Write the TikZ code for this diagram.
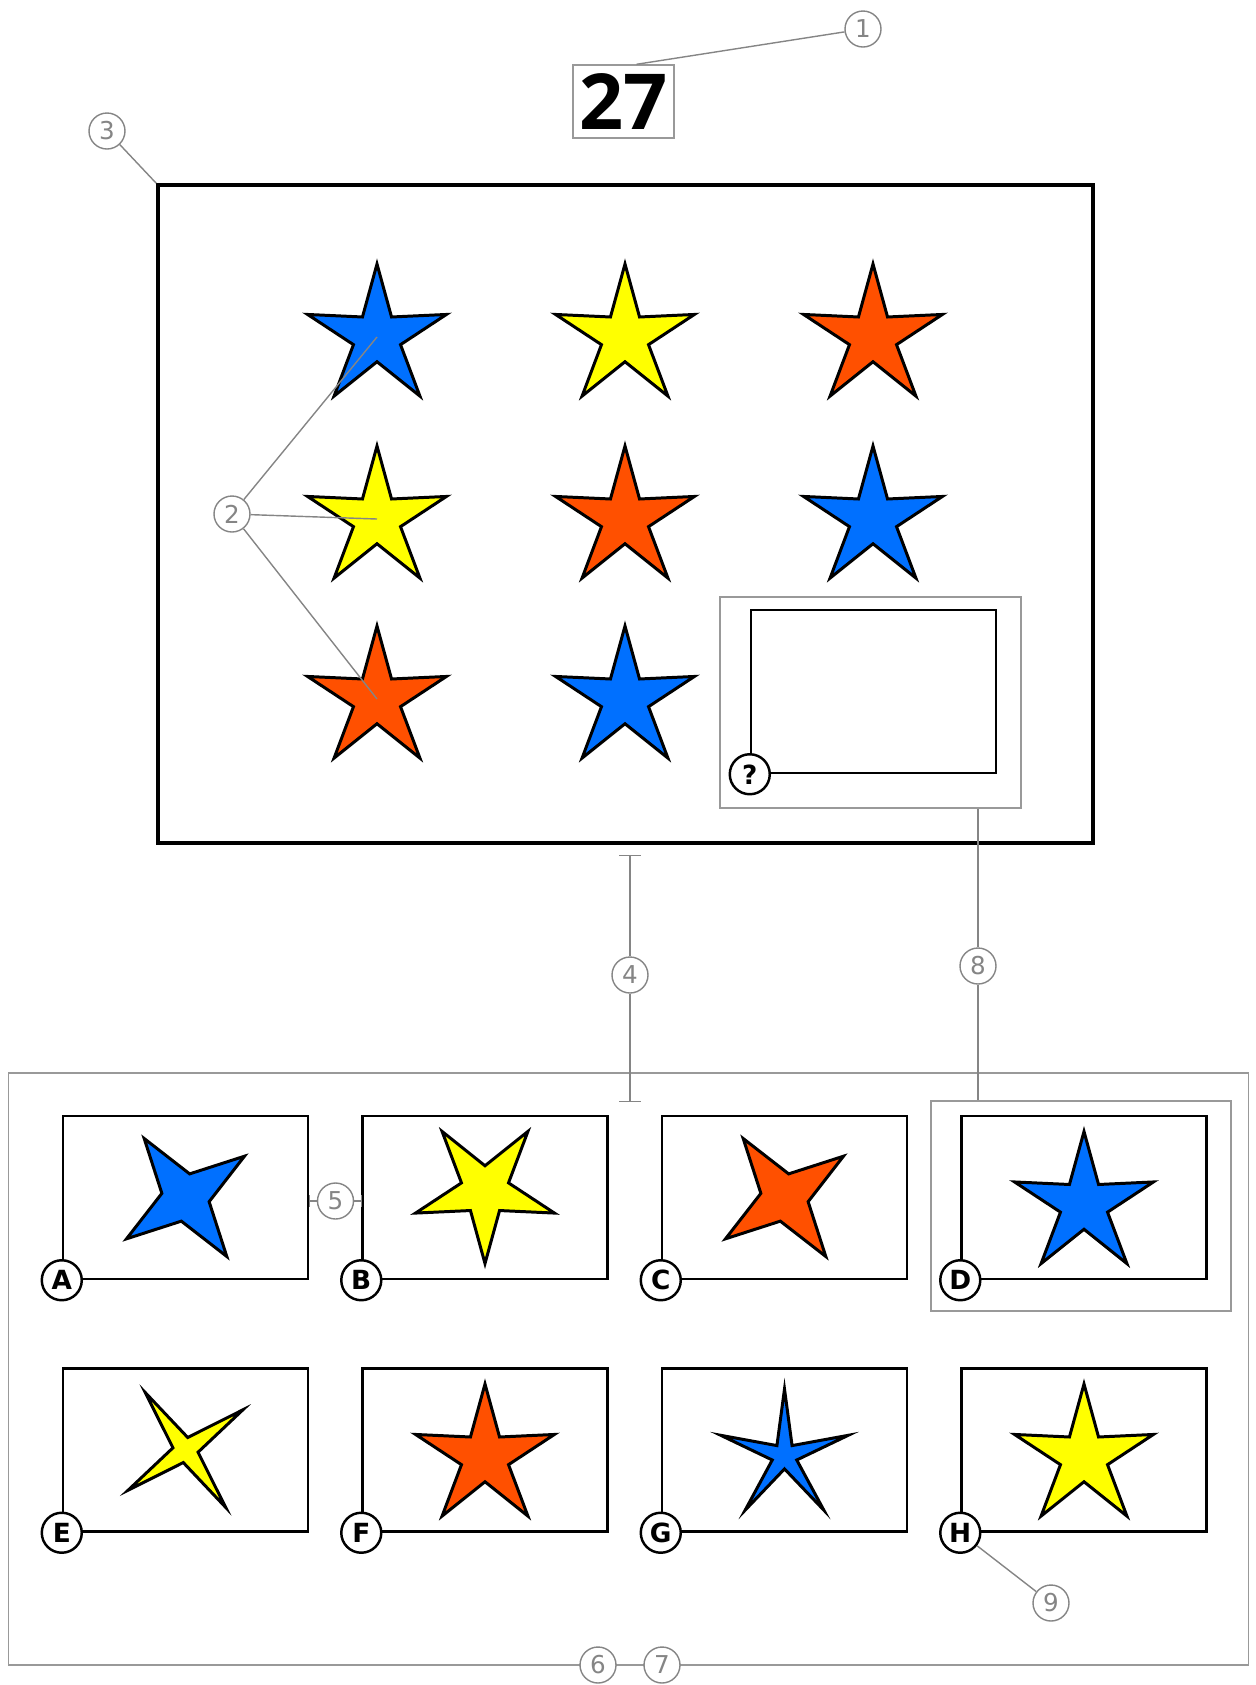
\documentclass[tikz,border=0pt]{standalone}
\usepackage{fontspec}
\setmainfont{DejaVu Sans}
\newfontfamily\titlefont{Open Sans}
\usetikzlibrary{arrows.meta, positioning, calc, shapes.geometric}
\definecolor{StarBlue}{RGB}{0,112,255}
\definecolor{StarYellow}{RGB}{255,255,0}
\definecolor{StarRed}{RGB}{255,80,0}
\colorlet{CalloutGray}{black!48}
\colorlet{FrameGray}{black!40}
\newcommand{\px}{0.02cm}

\begin{document}
\begin{tikzpicture}[
    x=0.02cm, y=-0.02cm,
    callout/.style={
        circle, draw=CalloutGray, text=CalloutGray, fill=white,
        line width=0.8pt, minimum size=36*\px, inner sep=0pt,
        font=\fontsize{14}{14}\selectfont
    },
    leader/.style={draw=CalloutGray, line width=0.8pt},
    dimline/.style={draw=CalloutGray, line width=0.8pt},
    grayframe/.style={
        rectangle, draw=FrameGray, line width=0.8pt, inner sep=0pt
    },
    cell/.style={
        rectangle, draw=black, line width=1.4pt, inner sep=0pt,
        minimum width=245*\px, minimum height=163*\px
    },
    letter/.style={
        circle, draw=black, line width=1.4pt, fill=white,
        minimum size=40*\px, inner sep=0pt,
        font=\fontsize{15}{15}\selectfont\bfseries
    },
    fivestar/.style={
        star, star points=5, star point ratio=#1, minimum size=146*\px,
        inner sep=0pt, draw=black, line width=1.7pt
    },
    fivestar/.default=2.95,
    fourstar/.style={
        star, star points=4, star point ratio=#1, minimum size=144*\px,
        inner sep=0pt, draw=black, line width=1.7pt, rotate=35
    },
    fourstar/.default=3
]
\useasboundingbox (0,0) rectangle (1256,1685);

% Title
\node[grayframe, minimum width=101*\px, minimum height=73*\px,
      font=\titlefont\bfseries\fontsize{44}{44}\selectfont] (title)
    at (623.5,101.5) {27};

% --- Puzzle matrix ---
\node[rectangle, draw=black, line width=2pt, inner sep=0pt,
      minimum width=935*\px, minimum height=658*\px] (matrix)
    at (625.5,514) {};

\node[fivestar, fill=StarBlue]   (s11) at (377,337) {};
\node[fivestar, fill=StarYellow] (s12) at (625,337) {};
\node[fivestar, fill=StarRed]    (s13) at (873,337) {};
\node[fivestar, fill=StarYellow] (s21) at (377,519) {};
\node[fivestar, fill=StarRed]    (s22) at (625,519) {};
\node[fivestar, fill=StarBlue]   (s23) at (873,519) {};
\node[fivestar, fill=StarRed]    (s31) at (377,699) {};
\node[fivestar, fill=StarBlue]   (s32) at (625,699) {};

% missing cell
\node[grayframe, minimum width=301*\px, minimum height=211*\px] (qframe)
    at (870.5,702.5) {};
\node[cell] (qbox) at (873.5,691.5) {};
\node[letter] (qmark) at (qbox.south west) {?};

% --- Answer options ---
\node[grayframe, minimum width=1240*\px, minimum height=592*\px] (options)
    at (628.5,1369) {};
\node[grayframe, minimum width=300*\px, minimum height=210*\px] (dframe)
    at (1081,1206) {};

\foreach \l/\cx/\cy in {A/185.5/1197.5, B/485/1197.5, C/784.5/1197.5,
                        D/1084/1197.5, E/185.5/1450, F/485/1450,
                        G/784.5/1450, H/1084/1450} {
    \node[cell] (box\l) at (\cx,\cy) {};
    \node[letter] (l\l) at (box\l.south west) {\l};
}

\node[fourstar, fill=StarBlue]            (optA) at (185.5,1197.5) {};
\node[fivestar, fill=StarYellow, rotate=180] (optB) at (485,1190.5) {};
\node[fourstar, fill=StarRed]             (optC) at (784.5,1197.5) {};
\node[fivestar, fill=StarBlue]            (optD) at (1084,1204.5) {};
\node[fourstar=5.5, fill=StarYellow, minimum size=140*\px] (optE)
    at (185.5,1450) {};
\node[fivestar, fill=StarRed]             (optF) at (485,1457) {};
\node[fivestar=5.2, fill=StarBlue, minimum size=134*\px] (optG)
    at (784.5,1456) {};
\node[fivestar, fill=StarYellow]          (optH) at (1084,1457) {};

% --- Callouts ---
\node[callout] (c1) at (863,29) {1};
\draw[leader] (c1) -- ($(title.north)+(13,0)$);

\node[callout] (c2) at (232,514) {2};
\foreach \s in {s11, s21, s31}
    \draw[leader] (c2) -- (\s.center);

\node[callout] (c3) at (107,131) {3};
\draw[leader] (c3) -- (matrix.north west);

\coordinate (d4a) at (630,855);
\coordinate (d4b) at (630,1102);
\node[callout] (c4) at (630,975) {4};
\draw[dimline, {Bar[width=12pt]}-] (d4a) -- (c4);
\draw[dimline, -{Bar[width=12pt]}] (c4) -- (d4b);

\coordinate (d5a) at (309,1201);
\coordinate (d5b) at (362,1201);
\node[callout] (c5) at (335.5,1201) {5};
\draw[dimline, {Bar[width=7pt]}-] (d5a) -- (c5);
\draw[dimline, -{Bar[width=7pt]}] (c5) -- (d5b);

\node[callout] (c6) at (598,1665) {6};
\node[callout] (c7) at (662,1665) {7};

\node[callout] (c8) at (978,966) {8};
\draw[leader] (c8 |- qframe.south) -- (c8);
\draw[leader] (c8) -- (c8 |- dframe.north);

\node[callout] (c9) at (1051,1603) {9};
\draw[leader] (lH) -- (c9);

\end{tikzpicture}
\end{document}
